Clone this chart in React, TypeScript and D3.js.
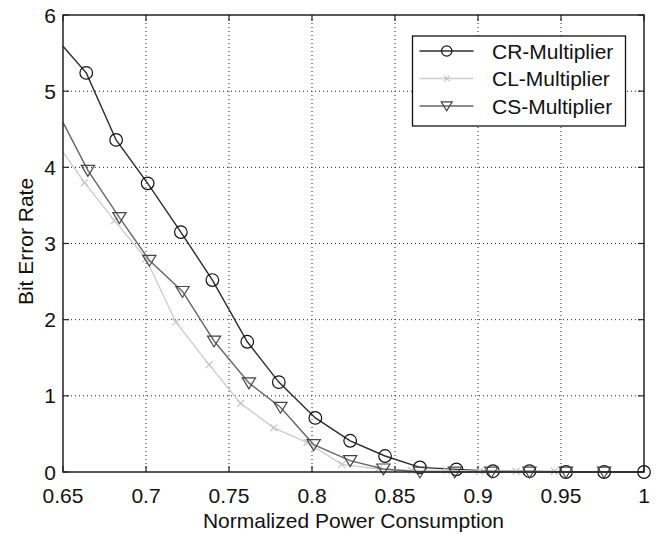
import React from "react";
import * as d3 from "d3";

const xTicks = [0.65, 0.7, 0.75, 0.8, 0.85, 0.9, 0.95, 1];
const xTickLabels = ["0.65", "0.7", "0.75", "0.8", "0.85", "0.9", "0.95", "1"];
const yTicks = [0, 1, 2, 3, 4, 5, 6];
const yTickLabels = ["0", "1", "2", "3", "4", "5", "6"];

const seriesNames = ["CR-Multiplier", "CL-Multiplier", "CS-Multiplier"];

// value of each line where it enters the axes at x = 0.65 (no marker there)
const lineStartX = 0.65;
const lineStartY = [5.59, 4.2, 4.59];

const xCR = [0.664, 0.682, 0.701, 0.721, 0.74, 0.761, 0.78, 0.802, 0.823, 0.844, 0.865, 0.887, 0.909, 0.931, 0.953, 0.976, 1.0];
const yCR = [5.24, 4.36, 3.79, 3.15, 2.52, 1.71, 1.18, 0.71, 0.41, 0.21, 0.06, 0.035, 0.01, 0.01, 0.0, 0.0, 0.0];

const xCL = [0.663, 0.681, 0.7, 0.718, 0.738, 0.757, 0.777, 0.797, 0.818, 0.84, 0.86, 0.881, 0.901, 0.923, 0.946];
const yCL = [3.8, 3.3, 2.8, 1.97, 1.41, 0.9, 0.58, 0.39, 0.1, 0.04, 0.02, 0.02, 0.01, 0.01, 0.01];

const xCS = [0.665, 0.684, 0.702, 0.722, 0.741, 0.762, 0.781, 0.801, 0.823, 0.843, 0.865, 0.886, 0.908, 0.931, 0.953, 0.976];
const yCS = [3.96, 3.34, 2.78, 2.37, 1.72, 1.17, 0.85, 0.36, 0.15, 0.04, 0.0, 0.0, 0.0, 0.0, 0.0, 0.0];

const FONT = "'Liberation Sans', Arial, Helvetica, sans-serif";

export default function App() {
  const W = 670;
  const H = 535;
  const left = 63;
  const right = 644;
  const top = 15;
  const bottom = 472;

  const x = d3.scaleLinear().domain([0.65, 1]).range([left, right]);
  const y = d3.scaleLinear().domain([0, 6]).range([bottom, top]);

  const series = [
    { name: seriesNames[0], xs: xCR, ys: yCR, start: lineStartY[0], color: "#2b2b2b", marker: "circle", mcolor: "#111" },
    { name: seriesNames[1], xs: xCL, ys: yCL, start: lineStartY[1], color: "#cdcdcd", marker: "x", mcolor: "#c4c4c4" },
    { name: seriesNames[2], xs: xCS, ys: yCS, start: lineStartY[2], color: "#666666", marker: "tri", mcolor: "#444" },
  ];

  const line = d3
    .line<[number, number]>()
    .x((d) => x(d[0]))
    .y((d) => y(d[1]));

  const marker = (type: string, cx: number, cy: number, color: string, size: number, key: string) => {
    if (type === "circle") {
      return <circle key={key} cx={cx} cy={cy} r={size} fill="none" stroke={color} strokeWidth={1.2} />;
    }
    if (type === "tri") {
      const s = size * 1.05;
      const pts = `${cx - s},${cy - s * 0.75} ${cx + s},${cy - s * 0.75} ${cx},${cy + s * 0.9}`;
      return <polygon key={key} points={pts} fill="none" stroke={color} strokeWidth={1.2} />;
    }
    const s = size * 0.55;
    return (
      <path
        key={key}
        d={`M${cx - s},${cy - s}L${cx + s},${cy + s}M${cx - s},${cy + s}L${cx + s},${cy - s}`}
        stroke={color}
        strokeWidth={1.2}
        fill="none"
      />
    );
  };

  const tickLen = 6;
  const legX = 412.5;
  const legY = 36;
  const legW = 213;
  const legH = 90;
  const legRows = [51, 78.5, 106];

  return (
    <svg
      width={W}
      height={H}
      style={{ position: "absolute", left: 0, top: 0, display: "block", background: "#fff" }}
      fontFamily={FONT}
    >
      <rect x={0} y={0} width={W} height={H} fill="#fff" />
      <defs>
        <clipPath id="plotclip">
          <rect x={left - 8} y={top} width={right - left + 16} height={bottom - top + 8} />
        </clipPath>
      </defs>

      {/* grid */}
      {xTicks.slice(1, -1).map((t, i) => (
        <line key={"gx" + i} x1={x(t)} x2={x(t)} y1={top} y2={bottom} stroke="#222" strokeWidth={1} strokeDasharray="1,3" />
      ))}
      {yTicks.slice(1, -1).map((t, i) => (
        <line key={"gy" + i} x1={left} x2={right} y1={y(t)} y2={y(t)} stroke="#222" strokeWidth={1} strokeDasharray="1,3" />
      ))}

      {/* ticks */}
      {xTicks.map((t, i) => (
        <g key={"tx" + i}>
          <line x1={x(t)} x2={x(t)} y1={bottom} y2={bottom - tickLen} stroke="#222" strokeWidth={1.2} />
          <line x1={x(t)} x2={x(t)} y1={top} y2={top + tickLen} stroke="#222" strokeWidth={1.2} />
          <text x={x(t)} y={503} fontSize={21} textAnchor="middle" fill="#111">
            {xTickLabels[i]}
          </text>
        </g>
      ))}
      {yTicks.map((t, i) => (
        <g key={"ty" + i}>
          <line x1={left} x2={left + tickLen} y1={y(t)} y2={y(t)} stroke="#222" strokeWidth={1.2} />
          <line x1={right} x2={right - tickLen} y1={y(t)} y2={y(t)} stroke="#222" strokeWidth={1.2} />
          <text x={56} y={y(t)} dy="0.36em" fontSize={21} textAnchor="end" fill="#111">
            {yTickLabels[i]}
          </text>
        </g>
      ))}

      {/* series */}
      <g clipPath="url(#plotclip)">
        {series.map((s, si) => {
          const pts: [number, number][] = [[lineStartX, s.start], ...s.xs.map((v, i) => [v, s.ys[i]] as [number, number])];
          return (
            <g key={"s" + si}>
              <path d={line(pts) || ""} fill="none" stroke={s.color} strokeWidth={1.4} />
              {s.xs.map((v, i) => marker(s.marker, x(v), y(s.ys[i]), s.mcolor, 6.3, "m" + si + "_" + i))}
            </g>
          );
        })}
      </g>

      {/* axes box */}
      <rect x={left} y={top} width={right - left} height={bottom - top} fill="none" stroke="#222" strokeWidth={1.5} />

      {/* legend */}
      <rect x={legX} y={legY} width={legW} height={legH} fill="#fff" stroke="#111" strokeWidth={1.3} />
      {series.map((s, i) => (
        <g key={"leg" + i}>
          <line x1={419.5} x2={473.5} y1={legRows[i]} y2={legRows[i]} stroke={s.color} strokeWidth={1.4} />
          {marker(s.marker, 446.7, legRows[i], s.mcolor, 5.2, "lm" + i)}
          <text x={492} y={legRows[i]} dy="0.36em" fontSize={21} fill="#111">
            {s.name}
          </text>
        </g>
      ))}

      {/* axis labels */}
      <text x={(left + right) / 2} y={528} fontSize={21} textAnchor="middle" fill="#111">
        Normalized Power Consumption
      </text>
      <text
        transform={`translate(33,${(top + bottom) / 2 - 2}) rotate(-90)`}
        fontSize={21}
        textAnchor="middle"
        fill="#111"
      >
        Bit Error Rate
      </text>
    </svg>
  );
}
